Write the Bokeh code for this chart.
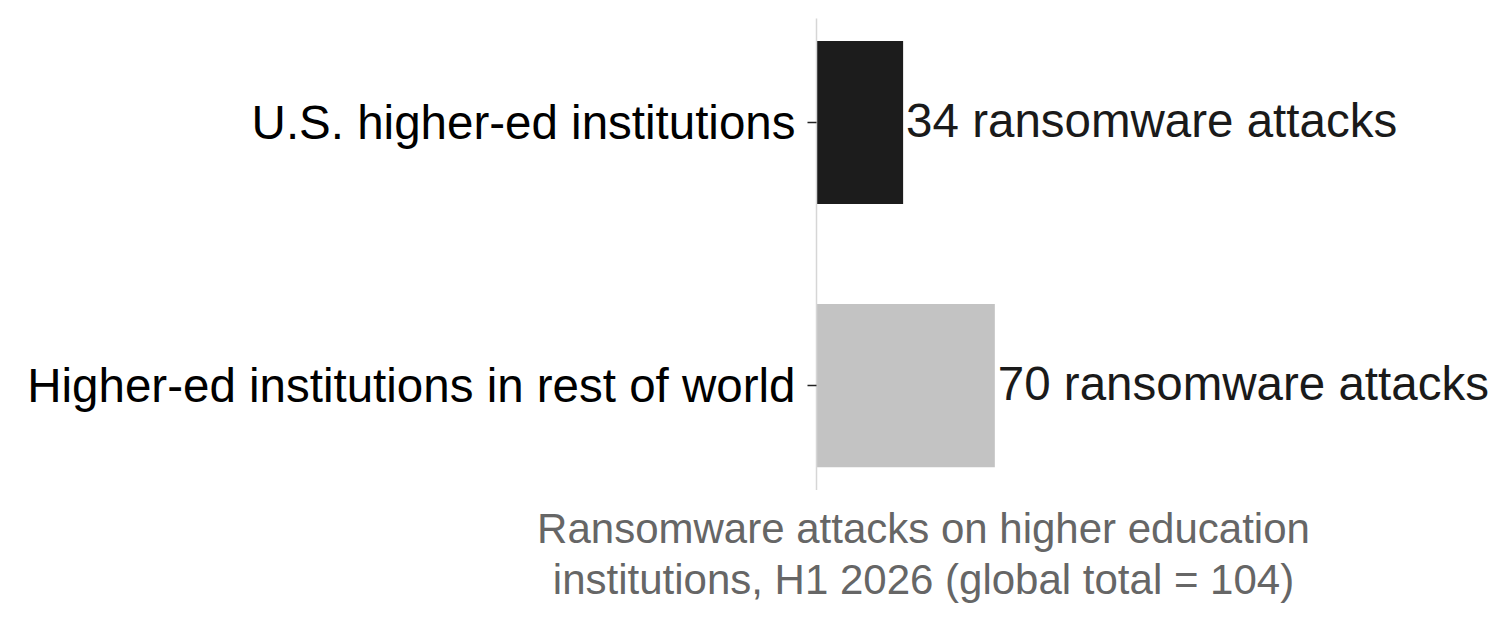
from bokeh.plotting import figure
from bokeh.layouts import column
from bokeh.models import Range1d, FixedTicker, ColumnDataSource
from bokeh.core.properties import value
from bokeh.embed import file_html
from bokeh.resources import INLINE

categories = ["U.S. higher-ed institutions", "Higher-ed institutions in rest of world"]
attacks = [34, 70]
bar_colors = ["#1c1c1c", "#c3c3c3"]
value_labels = [f"{v} ransomware attacks" for v in attacks]
x_title = "Ransomware attacks on higher education\ninstitutions, H1 2026 (global total = 104)"

positions = list(range(len(categories)))
source = ColumnDataSource(dict(y=positions, x=attacks, color=bar_colors, label=value_labels))

FONT = "Liberation Sans"
AXIS_MAX = max(attacks) * 1.2          # nominal x-axis extent
AXIS_PX = 214                          # pixels of the nominal x axis
FRAME_W = 678                          # drawing area extended so value labels are not clipped
LEFT = 816

# ---- main chart: bars, value labels, category axis
p = figure(
    frame_width=FRAME_W, frame_height=472,
    x_range=Range1d(0, AXIS_MAX * FRAME_W / AXIS_PX),
    y_range=Range1d(1.398, -0.395),
    output_backend="svg", toolbar_location=None,
    min_border_left=LEFT, min_border_top=18, min_border_right=0, min_border_bottom=0,
)
p.outline_line_color = None
p.background_fill_color = "white"
p.border_fill_color = "white"
p.xgrid.visible = False
p.ygrid.visible = False
p.xaxis.visible = False

p.hbar(y="y", right="x", left=0, height=0.62, color="color", line_color=None, source=source)
p.text(x="x", y="y", text="label", source=source, x_offset=3, y_offset=-2,
       text_baseline="middle", text_align="left",
       text_font=value(FONT), text_font_size="47.5px", text_color="#1a1a1a")

p.yaxis.ticker = FixedTicker(ticks=positions)
p.yaxis.major_label_overrides = {i: c for i, c in enumerate(categories)}
p.yaxis.major_label_text_font = FONT
p.yaxis.major_label_text_font_size = "47.5px"
p.yaxis.major_label_text_color = "#000000"
p.yaxis.major_label_standoff = 12
p.yaxis.major_tick_out = 9
p.yaxis.major_tick_in = 0
p.yaxis.major_tick_line_color = "#222222"
p.yaxis.major_tick_line_width = 1.5
p.yaxis.minor_tick_line_color = None
p.yaxis.axis_line_color = "#d6d6d6"
p.yaxis.axis_line_width = 1.5

# ---- x-axis title strip: same scale as the bars, only the axis title shown
px = figure(
    frame_width=AXIS_PX, frame_height=1,
    x_range=Range1d(0, AXIS_MAX), y_range=Range1d(0, 1),
    output_backend="svg", toolbar_location=None,
    min_border_left=LEFT, min_border_top=0,
    min_border_right=LEFT + FRAME_W - LEFT - AXIS_PX, min_border_bottom=0,
)
px.outline_line_color = None
px.background_fill_color = "white"
px.border_fill_color = "white"
px.xgrid.visible = False
px.ygrid.visible = False
px.yaxis.visible = False
px.scatter(x=[], y=[])
px.xaxis.ticker = FixedTicker(ticks=[])
px.xaxis.axis_line_color = None
px.xaxis.major_tick_line_color = None
px.xaxis.minor_tick_line_color = None
px.xaxis.axis_label = x_title
px.xaxis.axis_label_text_font = FONT
px.xaxis.axis_label_text_font_size = "42px"
px.xaxis.axis_label_text_font_style = "normal"
px.xaxis.axis_label_text_color = "#666666"
px.xaxis.axis_label_text_line_height = 1.1
px.xaxis.axis_label_standoff = 13

layout = column(p, px, spacing=0)
open("out.html", "w").write(file_html(layout, INLINE))
